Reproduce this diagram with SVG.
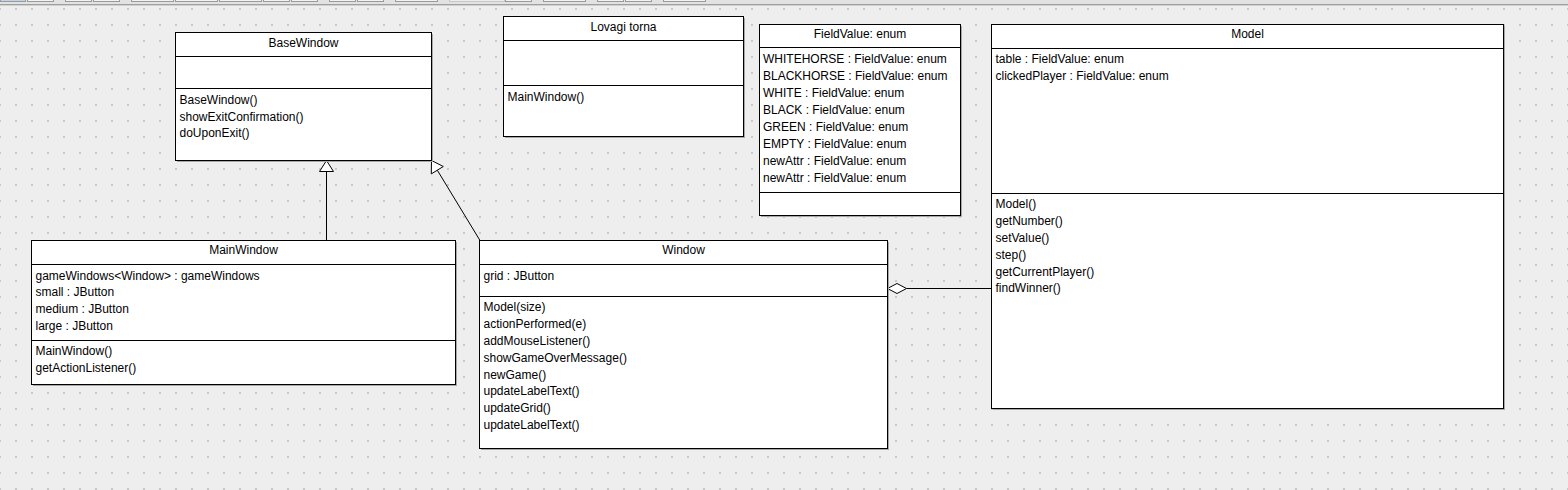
<svg xmlns="http://www.w3.org/2000/svg" width="1568" height="490" viewBox="0 0 1568 490">
<defs>
<pattern id="dots" patternUnits="userSpaceOnUse" x="-1" y="8" width="16" height="16">
<rect x="0" y="0" width="2" height="2" fill="#c8c8c8"/>
</pattern>
<style>
.box{fill:#ffffff;stroke:#000000;stroke-width:1}
.sh{fill:#a8a8a8}
.sep{stroke:#000000;stroke-width:1}
text{font-family:"Liberation Sans",Arial,sans-serif;font-size:12px;fill:#000000}
.t{text-anchor:middle}
.ln{stroke:#000000;stroke-width:1;fill:none}
.hd{fill:#ffffff;stroke:#000000;stroke-width:1}
.btn{fill:#f2f2f2;stroke:#9a9a9a;stroke-width:1}
</style>
</defs>
<rect x="0" y="0" width="1568" height="490" fill="#eeeeee"/>
<rect x="0" y="0" width="1568" height="490" fill="url(#dots)"/>
<g id="toolbar">
<rect x="0" y="0" width="1568" height="5" fill="#e2e2e2"/>
<rect x="0.5" y="-6.5" width="25" height="8" fill="#c3d3e8" stroke="#9a9a9a"/>
<rect class="btn" x="27.5" y="-6.5" width="26" height="8"/>
<rect class="btn" x="65.5" y="-6.5" width="26" height="8"/>
<rect class="btn" x="93.5" y="-6.5" width="26" height="8"/>
<rect class="btn" x="131.5" y="-6.5" width="42" height="8"/>
<rect class="btn" x="175.5" y="-6.5" width="42" height="8"/>
<rect class="btn" x="219.5" y="-6.5" width="42" height="8"/>
<rect class="btn" x="263.5" y="-6.5" width="26" height="8"/>
<rect class="btn" x="291.5" y="-6.5" width="26" height="8"/>
<rect class="btn" x="329.5" y="-6.5" width="26" height="8"/>
<rect class="btn" x="357.5" y="-6.5" width="26" height="8"/>
<rect class="btn" x="395.5" y="-6.5" width="42" height="8"/>
<rect x="449.5" y="-6.5" width="55" height="8" fill="#ececec" stroke="#c8c8c8"/>
<rect class="btn" x="505.5" y="-6.5" width="26" height="8"/>
<rect class="btn" x="543.5" y="-6.5" width="42" height="8"/>
<rect class="btn" x="597.5" y="-6.5" width="26" height="8"/>
<rect class="btn" x="625.5" y="-6.5" width="26" height="8"/>
<rect class="btn" x="663.5" y="-6.5" width="42" height="8"/>
<line x1="0" y1="4.5" x2="1568" y2="4.5" stroke="#a0a0a0"/>
<line x1="0" y1="5.5" x2="1568" y2="5.5" stroke="#d0d0d0"/>
</g>
<g id="connectors">
<line class="ln" x1="326.5" y1="171.5" x2="326.5" y2="240.5"/>
<polygon class="hd" points="326.5,160.5 319.5,171.5 333.5,171.5"/>
<line class="ln" x1="437.3" y1="170.2" x2="480" y2="240.5"/>
<polygon class="hd" points="431.5,160.5 443.3,166.5 431.3,173.9"/>
<line class="ln" x1="906.5" y1="288.5" x2="991.5" y2="288.5"/>
<polygon class="hd" points="887.5,288.5 897,283.5 906.5,288.5 897,293.5"/>
</g>
<g id="BaseWindow">
<rect class="sh" x="177" y="34" width="256" height="128"/>
<rect class="box" x="175.5" y="32.5" width="256" height="128"/>
<line class="sep" x1="175.5" y1="56.5" x2="431.5" y2="56.5"/>
<line class="sep" x1="175.5" y1="88.5" x2="431.5" y2="88.5"/>
<text class="t" x="303.5" y="47">BaseWindow</text>
<text x="179.5" y="103.5">BaseWindow()</text>
<text x="179.5" y="120.5">showExitConfirmation()</text>
<text x="179.5" y="137">doUponExit()</text>
</g>
<g id="LovagiTorna">
<rect class="sh" x="505" y="18" width="240" height="120"/>
<rect class="box" x="503.5" y="16.5" width="240" height="120"/>
<line class="sep" x1="503.5" y1="40.5" x2="743.5" y2="40.5"/>
<line class="sep" x1="503.5" y1="85.5" x2="743.5" y2="85.5"/>
<text class="t" x="623.5" y="30.5">Lovagi torna</text>
<text x="507.5" y="100.5">MainWindow()</text>
</g>
<g id="FieldValue">
<rect class="sh" x="761" y="26" width="201" height="191"/>
<rect class="box" x="759.5" y="24.5" width="201" height="191"/>
<line class="sep" x1="759.5" y1="47.5" x2="960.5" y2="47.5"/>
<line class="sep" x1="759.5" y1="192.5" x2="960.5" y2="192.5"/>
<text class="t" x="860" y="38.3">FieldValue: enum</text>
<text x="763" y="63.3">WHITEHORSE : FieldValue: enum</text>
<text x="763" y="80.2">BLACKHORSE : FieldValue: enum</text>
<text x="763" y="97.1">WHITE : FieldValue: enum</text>
<text x="763" y="114">BLACK : FieldValue: enum</text>
<text x="763" y="130.9">GREEN : FieldValue: enum</text>
<text x="763" y="147.8">EMPTY : FieldValue: enum</text>
<text x="763" y="164.7">newAttr : FieldValue: enum</text>
<text x="763" y="181.6">newAttr : FieldValue: enum</text>
</g>
<g id="Model">
<rect class="sh" x="993" y="26" width="512" height="384"/>
<rect class="box" x="991.5" y="24.5" width="512" height="384"/>
<line class="sep" x1="991.5" y1="48.5" x2="1503.5" y2="48.5"/>
<line class="sep" x1="991.5" y1="193.5" x2="1503.5" y2="193.5"/>
<text class="t" x="1247.5" y="38.3">Model</text>
<text x="995.5" y="63.3">table : FieldValue: enum</text>
<text x="995.5" y="80.2">clickedPlayer : FieldValue: enum</text>
<text x="995.5" y="208.3">Model()</text>
<text x="995.5" y="225.1">getNumber()</text>
<text x="995.5" y="241.9">setValue()</text>
<text x="995.5" y="258.7">step()</text>
<text x="995.5" y="275.5">getCurrentPlayer()</text>
<text x="995.5" y="292.3">findWinner()</text>
</g>
<g id="MainWindow">
<rect class="sh" x="33" y="242" width="424" height="144"/>
<rect class="box" x="31.5" y="240.5" width="424" height="144"/>
<line class="sep" x1="31.5" y1="264.5" x2="455.5" y2="264.5"/>
<line class="sep" x1="31.5" y1="340.5" x2="455.5" y2="340.5"/>
<text class="t" x="243.5" y="253.5">MainWindow</text>
<text x="35.5" y="279.5">gameWindows&lt;Window&gt; : gameWindows</text>
<text x="35.5" y="296.3">small : JButton</text>
<text x="35.5" y="313.1">medium : JButton</text>
<text x="35.5" y="329.9">large : JButton</text>
<text x="35.5" y="355.3">MainWindow()</text>
<text x="35.5" y="372.1">getActionListener()</text>
</g>
<g id="Window">
<rect class="sh" x="481" y="242" width="408" height="208"/>
<rect class="box" x="479.5" y="240.5" width="408" height="208"/>
<line class="sep" x1="479.5" y1="264.5" x2="887.5" y2="264.5"/>
<line class="sep" x1="479.5" y1="296.5" x2="887.5" y2="296.5"/>
<text class="t" x="683.5" y="254">Window</text>
<text x="483.5" y="279.5">grid : JButton</text>
<text x="483.5" y="311.3">Model(size)</text>
<text x="483.5" y="328.1">actionPerformed(e)</text>
<text x="483.5" y="344.9">addMouseListener()</text>
<text x="483.5" y="361.7">showGameOverMessage()</text>
<text x="483.5" y="378.5">newGame()</text>
<text x="483.5" y="395.3">updateLabelText()</text>
<text x="483.5" y="412.1">updateGrid()</text>
<text x="483.5" y="428.9">updateLabelText()</text>
</g>
</svg>
